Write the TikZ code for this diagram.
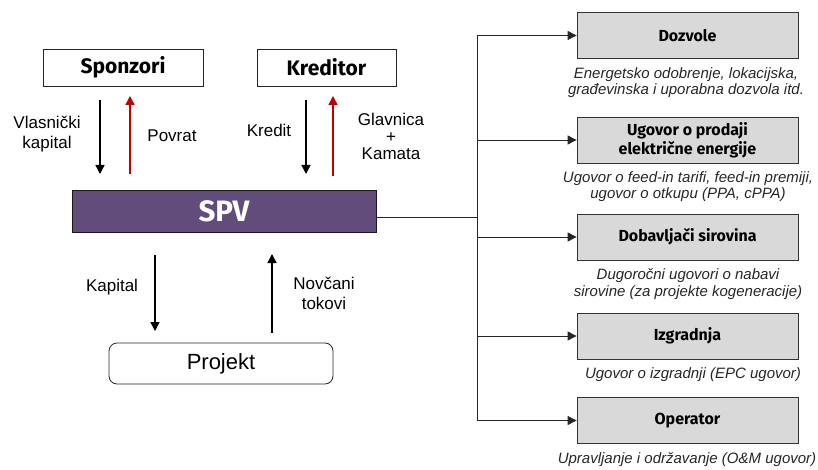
\documentclass[tikz,border=0pt]{standalone}
\usepackage{fontspec}
\setmainfont{Liberation Sans}
\newfontfamily\boxfont{Fira Sans}
\usetikzlibrary{arrows.meta}
\definecolor{spvpurple}{HTML}{614C7B}
\definecolor{boxgray}{HTML}{D9D9D9}
\definecolor{arrred}{HTML}{C00000}
\definecolor{desctext}{HTML}{262626}
\tikzset{
  topbox/.style={draw=black!85, line width=0.8pt, fill=white, inner sep=0pt, font=\boxfont\bfseries\fontsize{21}{24}\selectfont},
  rbox/.style={draw=black!80, line width=0.8pt, fill=boxgray, inner sep=0pt, minimum width=221pt, minimum height=46pt, align=center, font=\boxfont\bfseries\fontsize{16}{19}\selectfont},
  desc/.style={align=center, text=desctext, font=\itshape\fontsize{15}{16.5}\selectfont},
  lbl/.style={align=center, font=\fontsize{17}{20}\selectfont},
  flow/.style={-{Triangle[length=9pt,width=9pt]}, line width=1.4pt},
  redflow/.style={flow, draw=arrred, -{Triangle[length=9pt,width=9pt,fill=arrred]}},
  conn/.style={line width=0.9pt, draw=black!85},
  branch/.style={conn, -{Triangle[length=9pt,width=9pt]}}
}
\begin{document}
\begin{tikzpicture}[x=1pt,y=-1pt]
\useasboundingbox (0,0) rectangle (818,470);
% top boxes
\node[topbox, minimum width=160pt, minimum height=37pt] (spon) at (123,67.5) {Sponzori};
\node[topbox, minimum width=139pt, minimum height=37pt] (kred) at (326.5,67.5) {Kreditor};
% SPV
\node[draw=black!90, line width=0.8pt, fill=spvpurple, minimum width=304pt, minimum height=42pt, inner sep=0pt, text=white, font=\boxfont\bfseries\fontsize{29.5}{33}\selectfont] (spv) at (224,211) {SPV};
% Projekt
\node[draw=black!85, line width=0.8pt, rounded corners=8pt, fill=white, minimum width=224pt, minimum height=41pt, inner sep=0pt, font=\fontsize{22}{25}\selectfont] (proj) at (221,363.5) {Projekt};
% coordinates for vertical arrows
\coordinate (a1s) at (100,100); \coordinate (a1e) at (100,174);
\coordinate (a2s) at (130,174); \coordinate (a2e) at (130,96);
\coordinate (a3s) at (306,100); \coordinate (a3e) at (306,174);
\coordinate (a4s) at (333,176); \coordinate (a4e) at (333,96);
\coordinate (a5s) at (155,255); \coordinate (a5e) at (155,331);
\coordinate (a6s) at (272,333); \coordinate (a6e) at (272,254);
\draw[flow] (a1s) -- (a1e);
\draw[redflow] (a2s) -- (a2e);
\draw[flow] (a3s) -- (a3e);
\draw[redflow] (a4s) -- (a4e);
\draw[flow] (a5s) -- (a5e);
\draw[flow] (a6s) -- (a6e);
% labels
\node[lbl] (l1) at (47,134) {Vlasnički\\kapital};
\node[lbl] (l2) at (172,136) {Povrat};
\node[lbl] (l3) at (269,130) {Kredit};
\node[lbl, font=\fontsize{17}{17}\selectfont] (l4) at (391,136) {Glavnica\\+\\Kamata};
\node[lbl] (l5) at (112,287) {Kapital};
\node[lbl] (l6) at (324,293) {Novčani\\tokovi};
% right boxes
\node[rbox] (b1) at (687.5,35.5) {Dozvole};
\node[rbox] (b2) at (687.5,140) {Ugovor o prodaji\\električne energije};
\node[rbox] (b3) at (687.5,237) {Dobavljači sirovina};
\node[rbox] (b4) at (687.5,336) {Izgradnja};
\node[rbox] (b5) at (687.5,420.5) {Operator};
% descriptions
\node[desc] (d1) at (686,82.5) {Energetsko odobrenje, lokacijska,\\građevinska i uporabna dozvola itd.};
\node[desc] (d2) at (688,186.5) {Ugovor o feed-in tarifi, feed-in premiji,\\ugovor o otkupu (PPA, cPPA)};
\node[desc] (d3) at (688,284) {Dugoročni ugovori o nabavi\\sirovine (za projekte kogeneracije)};
\node[desc] (d4) at (693,375) {Ugovor o izgradnji (EPC ugovor)};
\node[desc] (d5) at (687,460) {Upravljanje i održavanje (O\&M ugovor)};
% connectors
\coordinate (jn) at (477,217);
\coordinate (jt) at (477,35.5);
\coordinate (jb) at (477,420.5);
\draw[conn] (spv.east |- jn) -- (jn);
\draw[conn] (jt) -- (jb);
\draw[branch] (jt) -- (b1.west);
\draw[branch] (477,140) -- (b2.west);
\draw[branch] (477,237) -- (b3.west);
\draw[branch] (477,336) -- (b4.west);
\draw[branch] (jb) -- (b5.west);
\end{tikzpicture}
\end{document}
